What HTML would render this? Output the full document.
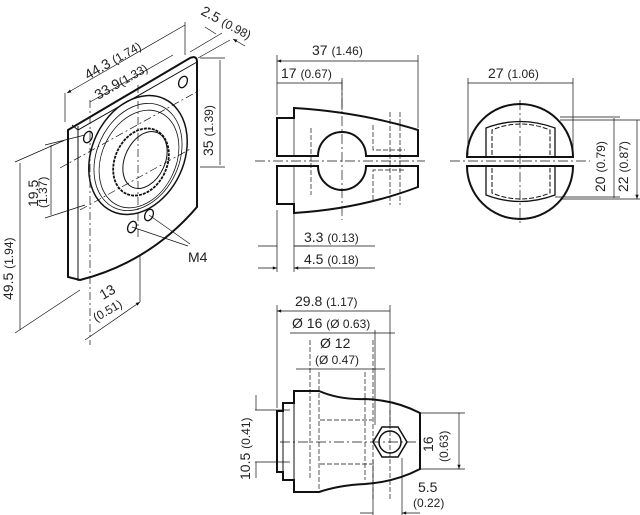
<!DOCTYPE html>
<html><head><style>
html,body{margin:0;padding:0;background:#fff}
svg{display:block}
text{font-family:"Liberation Sans",sans-serif;fill:#222}
.t{font-size:14px}.s{font-size:12px}
</style></head><body>
<svg width="640" height="515" viewBox="0 0 640 515" xmlns="http://www.w3.org/2000/svg">
<defs><marker id="a" viewBox="0 0 10 10" refX="10" refY="5" markerWidth="8" markerHeight="6" orient="auto-start-reverse"><path d="M0,1 L10,5 L0,9z" fill="#111"/></marker></defs>
<g fill="none" stroke="#111">
<!-- plate -->
<path d="M68,130 L190,58 Q197,55 197,62 L197,207 Q150,262 80,280 L68,277 Z" stroke-width="2"/>
<path d="M78,126 L78,281 M72,125 L78,130 L197,62" stroke-width="1"/>
<ellipse cx="138" cy="155" rx="46" ry="62" transform="rotate(25 138 155)" stroke-width="1.5"/>
<ellipse cx="138" cy="157" rx="41" ry="56" transform="rotate(25 138 157)" stroke-width="0.8"/>
<ellipse cx="139" cy="159" rx="37" ry="51" transform="rotate(25 139 159)" stroke-width="0.8"/>
<ellipse cx="141" cy="162" rx="26" ry="35" transform="rotate(25 141 162)" stroke-width="1.8" stroke-dasharray="3 1"/>
<ellipse cx="145" cy="160" rx="20" ry="30" transform="rotate(25 145 160)" stroke-width="1"/>
<ellipse cx="88" cy="137" rx="4" ry="6" transform="rotate(25 88 137)" stroke-width="1.3"/>
<ellipse cx="183" cy="82" rx="4" ry="6" transform="rotate(25 183 82)" stroke-width="1.3"/>
<ellipse cx="132" cy="227" rx="4" ry="6" transform="rotate(25 132 227)" stroke-width="1.3"/>
<ellipse cx="149" cy="215" rx="4" ry="6" transform="rotate(25 149 215)" stroke-width="1.3"/>
<g stroke-width="0.7">
<path d="M132,227 L188,246 M149,215 L190,244"/>
<path d="M90,100 L90,345 M138,85 L138,240" stroke-dasharray="8 3 2 3"/>
<path d="M80,210 L192,148 M60,168 L200,90" stroke-dasharray="8 3 2 3"/>
<!-- ext lines -->
<path d="M65,93 L65,122 M185,22 L185,55 M190,52 L222,33 M198,58 L230,40 M200,58 L225,58 M200,167 L225,167 M45,145 L85,135 M45,218 L85,205 M15,162 L65,140 M15,333 L80,290 M140,255 L140,302"/>
<path d="M67,93 L185,25 M90,102 L173,55 M220,60 L220,165 M51,145 L51,215 M20,163 L20,330 M85,340 L140,302" marker-start="url(#a)" marker-end="url(#a)"/>
<path d="M205,27 L216,34 M245,46 L233,39" marker-end="url(#a)"/>
</g>
<!-- side view -->
<path d="M277,118 L294,118 L294,108 Q360,112 418,130 L418,156 L366,156 A24,24 0 0 0 318,156 L277,156 Z" stroke-width="2"/>
<path d="M277,204 L294,204 L294,213 Q360,209 418,187 L418,166 L366,166 A24,24 0 0 1 318,166 L277,166 Z" stroke-width="2"/>
<g stroke-width="0.7">
<path d="M294,118 L294,156 M294,166 L294,204"/>
<path d="M373,125 L373,150 L405,150 M373,200 L373,170 L405,170 M390,112 L390,205 M400,112 L400,205 M311,128 L311,195" stroke-dasharray="5 2"/>
<path d="M255,161 L425,161 M342,80 L342,220 M450,161 L590,161 M520,100 L520,225" stroke-dasharray="10 3 2 3"/>
<path d="M277,55 L277,115 M418,55 L418,128 M342,78 L342,110 M277,210 L277,272 M294,210 L294,272 M468,78 L468,155 M573,78 L573,155 M560,120 L640,120 M560,117 L620,117 M560,199 L640,199 M555,197 L620,197"/>
<path d="M277,61 L418,61 M277,83 L342,83 M468,83 L573,83 M614,118 L614,198 M637,120 L637,199" marker-start="url(#a)" marker-end="url(#a)"/>
<path d="M258,246 L277,246 M258,268 L277,268" marker-end="url(#a)"/>
<path d="M310,246 L294,246 M310,268 L294,268" marker-end="url(#a)"/>
<path d="M294,246 L375,246 M294,268 L375,268"/>
</g>
<!-- end view -->
<path d="M467,157 A53,53 0 0 1 573,157 Z M467,166 A53,53 0 0 0 573,166 Z" stroke-width="2"/>
<path d="M486,157 L486,128 Q520,115 555,128 L555,157 M486,166 L486,195 Q520,208 555,195 L555,166" stroke-width="1.3"/>
<path d="M492,155 L492,130 Q520,118 550,130 L550,155 M492,168 L492,193 Q520,205 550,193 L550,168" stroke-width="1" stroke-dasharray="5 2"/>
<!-- bottom view -->
<path d="M277,411 L283,411 L283,403 L294,403 L294,391 L319,391 Q340,400 365,399 Q395,400 420,413 L420,469 Q395,482 365,484 Q340,485 319,492 L294,492 L294,480 L283,480 L283,472 L277,472 Z" stroke-width="2"/>
<path d="M283,411 L283,472 M294,403 L294,480" stroke-width="1"/>
<path d="M407,442 L398,427 L382,427 L373,442 L382,457 L398,457 Z" stroke-width="1.5"/>
<circle cx="390" cy="442" r="11" stroke-width="1.5"/>
<g stroke-width="0.7">
<path d="M310,340 L310,480 M319,372 L319,490 M365,372 L365,480 M373,340 L373,500 M390,410 L390,500 M320,420 L372,420 M320,464 L372,464" stroke-dasharray="5 2"/>
<path d="M280,442 L425,442" stroke-dasharray="10 3 2 3"/>
<path d="M277,305 L277,408 M390,305 L390,425 M375,330 L375,425 M255,410 L290,410 M255,462 L290,462 M420,413 L465,413 M420,469 L465,469 M402,458 L402,515 M373,460 L373,515"/>
<path d="M277,311 L390,311 M459,413 L459,469" marker-start="url(#a)" marker-end="url(#a)"/>
<path d="M290,333 L310,333 M395,333 L373,333 M296,369 L319,369 M385,369 L365,369 M256,395 L256,410 M256,478 L256,462 M360,513 L373,513 M420,513 L402,513" marker-end="url(#a)"/>
<path d="M310,333 L373,333 M319,369 L365,369"/>
</g>
</g>
<!-- labels -->
<text class="t" transform="translate(88,80) rotate(-30)">44.3 <tspan class="s">(1.74)</tspan></text>
<text class="t" transform="translate(98,100) rotate(-30)">33.9<tspan class="s">(1.33)</tspan></text>
<text class="t" transform="translate(200,14) rotate(28)">2.5 <tspan class="s">(0.98)</tspan></text>
<text class="t" transform="translate(213,156) rotate(-90)">35 <tspan class="s">(1.39)</tspan></text>
<text class="t" transform="translate(38,207) rotate(-90)">19.5</text>
<text class="s" transform="translate(47,208) rotate(-90)">(1.37)</text>
<text class="t" transform="translate(13,300) rotate(-90)">49.5 <tspan class="s">(1.94)</tspan></text>
<text class="t" x="188" y="262">M4</text>
<text class="t" transform="translate(103,300) rotate(-30)">13</text>
<text class="s" transform="translate(96,322) rotate(-30)">(0.51)</text>
<text class="t" x="312" y="55">37 <tspan class="s">(1.46)</tspan></text>
<text class="t" x="281" y="78">17 <tspan class="s">(0.67)</tspan></text>
<text class="t" x="304" y="242">3.3 <tspan class="s">(0.13)</tspan></text>
<text class="t" x="304" y="264">4.5 <tspan class="s">(0.18)</tspan></text>
<text class="t" x="488" y="78">27 <tspan class="s">(1.06)</tspan></text>
<text class="t" transform="translate(605,192) rotate(-90)">20 <tspan class="s">(0.79)</tspan></text>
<text class="t" transform="translate(628,192) rotate(-90)">22 <tspan class="s">(0.87)</tspan></text>
<text class="t" x="295" y="306">29.8 <tspan class="s">(1.17)</tspan></text>
<text class="t" x="292" y="328">Ø 16 <tspan class="s">(Ø 0.63)</tspan></text>
<text class="t" x="320" y="348">Ø 12</text>
<text class="s" x="315" y="364">(Ø 0.47)</text>
<text class="t" transform="translate(250,480) rotate(-90)">10.5 <tspan class="s">(0.41)</tspan></text>
<text class="t" transform="translate(433,452) rotate(-90)">16</text>
<text class="s" transform="translate(448,462) rotate(-90)">(0.63)</text>
<text class="t" x="418" y="492">5.5</text>
<text class="s" x="413" y="507">(0.22)</text>
</svg>
</body></html>
